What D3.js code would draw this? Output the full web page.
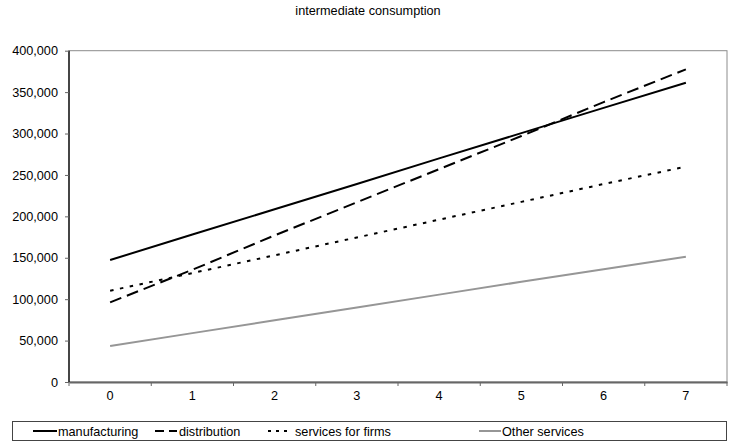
<!DOCTYPE html>
<html><head><meta charset="utf-8">
<script src="https://cdn.jsdelivr.net/npm/d3@7"></script>
<style>body{margin:0;background:#fff}svg{font-family:"Liberation Sans",Arial,sans-serif}</style>
</head><body><svg id="c" width="733" height="446"></svg>
<script>
const categories = [0,1,2,3,4,5,6,7];
const manufacturing = [147300,178000,208500,239000,270000,300500,331000,361300];
const distribution = [96200,135500,177000,217000,257000,297000,338000,377500];
const servicesForFirms = [110200,131500,153000,174500,196000,217500,239000,260000];
const otherServices = [43500,59000,74500,90000,105500,121000,136000,151300];
const yTicks = [0,50000,100000,150000,200000,250000,300000,350000,400000];
const seriesNames = ["manufacturing","distribution","services for firms","Other services"];

const series = [
  {name: seriesNames[0], values: manufacturing, color:"#000", dash:null},
  {name: seriesNames[1], values: distribution, color:"#000", dash:"12,6"},
  {name: seriesNames[2], values: servicesForFirms, color:"#000", dash:"3.5,6.5"},
  {name: seriesNames[3], values: otherServices, color:"#969696", dash:null}
];

const FS = 12.7;
const svg = d3.select("#c");
const L=69, R=727, T=50.7, B=382;
const x = d3.scaleBand().domain(categories).range([L,R]);
const y = d3.scaleLinear().domain([0,400000]).range([B,T]);

svg.append("text").attr("x",368).attr("y",14.5).attr("text-anchor","middle")
  .attr("font-size",FS).text("intermediate consumption");

// plot frame
svg.append("rect").attr("x",L).attr("y",T).attr("width",R-L).attr("height",B-T)
  .attr("fill","none").attr("stroke","#8c8c8c").attr("stroke-width",1);

// x axis
const xa = svg.append("g").attr("transform",`translate(0,${B})`)
  .call(d3.axisBottom(x).tickSize(0).tickPadding(9));
xa.select(".domain").attr("stroke","#666").attr("stroke-width",2);
xa.selectAll("text").attr("font-size",FS).attr("fill","#000").style("font-family","Liberation Sans, Arial, sans-serif");
// band boundary ticks
svg.append("g").selectAll("line").data(categories.concat([null])).join("line")
  .attr("x1",(d,i)=>L+i*x.bandwidth()).attr("x2",(d,i)=>L+i*x.bandwidth())
  .attr("y1",B).attr("y2",B+4).attr("stroke","#666").attr("stroke-width",1);

// y axis
const ya = svg.append("g").attr("transform",`translate(${L},0)`)
  .call(d3.axisLeft(y).tickValues(yTicks).tickSize(4).tickPadding(7).tickFormat(d3.format(",")));
ya.select(".domain").attr("stroke","#000").attr("stroke-width",1.3).attr("d",`M0,${T}V${B}`);
ya.selectAll(".tick line").attr("stroke","#666");
ya.selectAll("text").attr("font-size",FS).attr("fill","#000").style("font-family","Liberation Sans, Arial, sans-serif");

const line = d3.line().x((d,i)=>x(categories[i])+x.bandwidth()/2).y(d=>y(d));
svg.append("g").selectAll("path").data(series).join("path")
  .attr("d",d=>line(d.values)).attr("fill","none")
  .attr("stroke",d=>d.color).attr("stroke-width",2)
  .attr("stroke-dasharray",d=>d.dash);

// legend
svg.append("rect").attr("x",12.5).attr("y",421.5).attr("width",714).attr("height",19)
  .attr("fill","#fff").attr("stroke","#444").attr("stroke-width",1);
const legX = [[33,57,58],[155,177,179],[268,290,295],[479,501,502]];
const legDash = [null,"9,5","3,5",null];
const lg = svg.append("g").selectAll("g").data(series).join("g");
lg.append("line").attr("x1",(d,i)=>legX[i][0]).attr("x2",(d,i)=>legX[i][1])
  .attr("y1",431).attr("y2",431).attr("stroke",d=>d.color).attr("stroke-width",2)
  .attr("stroke-dasharray",(d,i)=>legDash[i]);
lg.append("text").attr("x",(d,i)=>legX[i][2]).attr("y",435.5).attr("font-size",FS)
  .text(d=>d.name);
</script></body></html>
